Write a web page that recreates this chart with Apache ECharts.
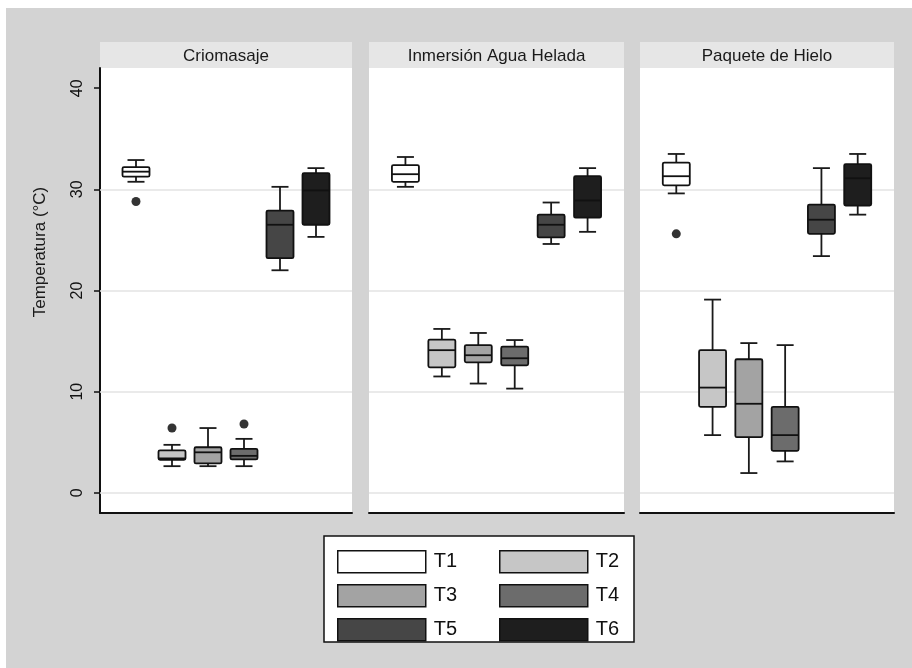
<!DOCTYPE html>
<html>
<head>
<meta charset="utf-8">
<script src="https://cdn.jsdelivr.net/npm/echarts@6/dist/echarts.min.js"></script>
<style>
  html, body { margin: 0; padding: 0; background: #ffffff; }
  #chart { width: 912px; height: 668px; }
</style>
</head>
<body>
<div id="chart"></div>
<script>
// Panels (treatment method) and the six measurement times
const panels = ['Criomasaje', 'Inmersión Agua Helada', 'Paquete de Hielo'];
const groups = ['T1', 'T2', 'T3', 'T4', 'T5', 'T6'];
const groupColors = ['#ffffff', '#c6c6c6', '#a3a3a3', '#6c6c6c', '#464646', '#1e1e1e'];

// Box statistics per time: [lower whisker, Q1, median, Q3, upper whisker]
const criomasajeStats = [
  [30.75, 31.25, 31.75, 32.2, 32.9],
  [2.63, 3.26, 3.4, 4.2, 4.74],
  [2.63, 2.9, 4.0, 4.5, 6.4],
  [2.63, 3.3, 3.65, 4.35, 5.33],
  [22.0, 23.2, 26.5, 27.9, 30.25],
  [25.3, 26.5, 29.9, 31.6, 32.1]
];
const inmersionStats = [
  [30.25, 30.75, 31.5, 32.4, 33.2],
  [11.5, 12.4, 14.1, 15.15, 16.2],
  [10.8, 12.9, 13.6, 14.6, 15.8],
  [10.3, 12.6, 13.3, 14.45, 15.1],
  [24.6, 25.25, 26.5, 27.5, 28.7],
  [25.8, 27.2, 28.9, 31.3, 32.1]
];
const paqueteStats = [
  [29.6, 30.4, 31.3, 32.65, 33.5],
  [5.7, 8.5, 10.4, 14.1, 19.1],
  [1.95, 5.5, 8.8, 13.2, 14.8],
  [3.1, 4.15, 5.7, 8.5, 14.6],
  [23.4, 25.6, 27.0, 28.5, 32.1],
  [27.5, 28.4, 31.1, 32.5, 33.5]
];

// Outside values: [time (T1 = 1 ... T6 = 6), temperature]
const criomasajeOutliers = [[1, 28.8], [2, 6.4], [4, 6.8]];
const inmersionOutliers = [];
const paqueteOutliers = [[1, 25.6]];

// Axis ticks and horizontal reference lines
const yTicks = [0, 10, 20, 30, 40];
const gridValues = [0, 10, 20, 30];

const panelStats = [criomasajeStats, inmersionStats, paqueteStats];
const panelOutliers = [criomasajeOutliers, inmersionOutliers, paqueteOutliers];

// Layout
const FONT = 'Liberation Sans, Arial, sans-serif';
const panelLeft = [100, 369, 640];
const panelWidth = [252, 255, 254];
const plotTop = 68;
const plotBottom = 668 - 513;
const headerTop = 42;
const headerHeight = 26;

function renderBox(params, api) {
  const x = api.value(0);
  const lo = api.coord([x, api.value(1)]);
  const q1 = api.coord([x, api.value(2)]);
  const med = api.coord([x, api.value(3)]);
  const q3 = api.coord([x, api.value(4)]);
  const hi = api.coord([x, api.value(5)]);
  const cx = lo[0];
  const half = 13.5;
  const cap = 8.5;
  const lineStyle = { stroke: '#1a1a1a', lineWidth: 1.8 };
  return {
    type: 'group',
    children: [
      { type: 'line', shape: { x1: cx, y1: hi[1], x2: cx, y2: q3[1] }, style: lineStyle },
      { type: 'line', shape: { x1: cx, y1: q1[1], x2: cx, y2: lo[1] }, style: lineStyle },
      { type: 'line', shape: { x1: cx - cap, y1: hi[1], x2: cx + cap, y2: hi[1] }, style: lineStyle },
      { type: 'line', shape: { x1: cx - cap, y1: lo[1], x2: cx + cap, y2: lo[1] }, style: lineStyle },
      {
        type: 'rect',
        shape: { x: cx - half, y: q3[1], width: half * 2, height: q1[1] - q3[1], r: 1.5 },
        style: { fill: api.visual('color'), stroke: '#111111', lineWidth: 1.8 }
      },
      { type: 'line', shape: { x1: cx - half, y1: med[1], x2: cx + half, y2: med[1] }, style: { stroke: '#111111', lineWidth: 1.8 } }
    ]
  };
}

const grids = [];
const xAxes = [];
const yAxes = [];
const series = [];
const graphics = [];

// Page background
graphics.push({
  type: 'rect', z: -10, silent: true,
  shape: { x: 6, y: 8, width: 906, height: 660 },
  style: { fill: '#d3d3d3' }
});

panels.forEach((panel, p) => {
  grids.push({
    left: panelLeft[p], width: panelWidth[p], top: plotTop, bottom: plotBottom,
    show: true, backgroundColor: '#ffffff', borderWidth: 0
  });
  xAxes.push({
    gridIndex: p, type: 'value', min: 0, max: 7,
    axisLine: { show: true, onZero: false, lineStyle: { color: '#111111', width: 2 } },
    axisTick: { show: false }, axisLabel: { show: false }, splitLine: { show: false }
  });
  yAxes.push({
    gridIndex: p, type: 'value', min: -2, max: 42,
    axisLine: { show: p === 0, lineStyle: { color: '#111111', width: 2 } },
    axisTick: { show: p === 0, customValues: yTicks, length: 6, lineStyle: { color: '#111111', width: 1.5 } },
    axisLabel: {
      show: p === 0, customValues: yTicks, rotate: 90, margin: 14,
      fontFamily: FONT, fontSize: 16, color: '#111111'
    },
    splitLine: { show: false }
  });

  // Horizontal reference lines, drawn beneath the boxes
  series.push({
    type: 'line', xAxisIndex: p, yAxisIndex: p, data: [], silent: true,
    markLine: {
      z: 1, silent: true, symbol: ['none', 'none'], label: { show: false },
      lineStyle: { color: '#e3e3e3', width: 1.5, type: 'solid' },
      emphasis: { disabled: true },
      data: gridValues.map(v => ({ yAxis: v }))
    }
  });

  groups.forEach((g, i) => {
    const s = panelStats[p][i];
    series.push({
      name: g, type: 'custom', xAxisIndex: p, yAxisIndex: p, z: 3,
      itemStyle: { color: groupColors[i] },
      renderItem: renderBox,
      encode: { x: 0, y: [1, 2, 3, 4, 5] },
      data: [[i + 1].concat(s)]
    });
  });

  series.push({
    name: 'outside', type: 'scatter', xAxisIndex: p, yAxisIndex: p, z: 4,
    symbol: 'circle', symbolSize: 9,
    itemStyle: { color: '#000000' },
    data: panelOutliers[p]
  });

  // Panel header strip
  graphics.push({
    type: 'rect', silent: true,
    shape: { x: panelLeft[p], y: headerTop, width: panelWidth[p], height: headerHeight },
    style: { fill: '#e6e6e6' }
  });
  graphics.push({
    type: 'text', silent: true,
    x: panelLeft[p] + panelWidth[p] / 2, y: headerTop + headerHeight / 2 + 1,
    style: {
      text: panel, fill: '#1a1a1a', font: '17px ' + FONT,
      align: 'center', verticalAlign: 'middle'
    }
  });
});

// Y axis title
graphics.push({
  type: 'text', silent: true, x: 40, y: 252, rotation: Math.PI / 2,
  style: {
    text: 'Temperatura (°C)', fill: '#1a1a1a', font: '17px ' + FONT,
    align: 'center', verticalAlign: 'middle'
  }
});

// Legend frame
graphics.push({
  type: 'rect', silent: true, z: -5,
  shape: { x: 324, y: 536, width: 310, height: 106 },
  style: { fill: '#ffffff', stroke: '#111111', lineWidth: 1.5 }
});

function legendItem(i) {
  return {
    name: groups[i], icon: 'rect',
    itemStyle: { color: groupColors[i], borderColor: '#111111', borderWidth: 1.5 }
  };
}
const legendCommon = {
  orient: 'vertical', top: 545, itemWidth: 88, itemHeight: 22, itemGap: 10.5,
  selectedMode: false,
  textStyle: { fontFamily: FONT, fontSize: 20, color: '#111111', padding: [0, 0, 0, 3] }
};

const chart = echarts.init(document.getElementById('chart'), null, { renderer: 'canvas' });
chart.setOption({
  backgroundColor: '#ffffff',
  animation: false,
  grid: grids,
  xAxis: xAxes,
  yAxis: yAxes,
  legend: [
    Object.assign({ left: 332, data: [0, 2, 4].map(legendItem) }, legendCommon),
    Object.assign({ left: 494, data: [1, 3, 5].map(legendItem) }, legendCommon)
  ],
  graphic: graphics,
  series: series
});
</script>
</body>
</html>
